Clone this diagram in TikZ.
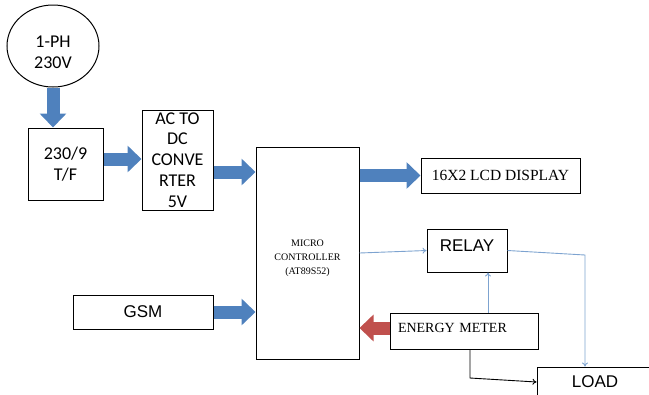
\documentclass[tikz,border=0pt]{standalone}
\usepackage{fontspec}
\setmainfont{Liberation Serif}
\newfontfamily\calfont{Carlito}
\newfontfamily\arialfont{Liberation Sans}
\usetikzlibrary{shapes.geometric,arrows.meta}

\definecolor{blockblue}{RGB}{79,129,189}
\definecolor{blockred}{RGB}{192,80,77}
\definecolor{lineblue}{RGB}{125,163,208}

\tikzset{
  box/.style={draw=black,line width=1bp,inner sep=0pt,align=center},
  calbox/.style={box,font=\calfont\fontsize{18bp}{20.8bp}\selectfont},
  fat/.style={draw=blockblue,line width=13bp,-{Triangle[width=26bp,length=14bp]}},
  thin/.style={draw=lineblue,line width=0.9bp,-{To[length=4bp,width=6bp]}}
}
% shift a text without changing the size that the node sees
\newcommand{\nudge}[2]{\raisebox{#1}[\height][\depth]{#2}}

\begin{document}
\begin{tikzpicture}[x=1bp,y=-1bp]
                \useasboundingbox (0,0) rectangle (649,394);
                \clip (0,0) rectangle (649,394);
                \node[calbox,shape=ellipse,minimum width=92bp,minimum height=82bp] (src) at (53,46) {\nudge{-8bp}{\begin{tabular}{@{}c@{}}1-PH\\230V\end{tabular}}};
                \node[calbox,minimum width=75bp,minimum height=72bp] (tf) at (65.5,164) {230/9\\T/F};
                \node[calbox,minimum width=71bp,minimum height=100bp] (ac) at (177.5,160) {AC TO\\DC\\CONVE\\RTER\\5V};
                \node[box,minimum width=103bp,minimum height=212bp,font=\fontsize{10bp}{14bp}\selectfont] (mc) at (307.5,253) {\nudge{-5bp}{\begin{tabular}{@{}c@{}}MICRO\\CONTROLLER\\(AT89S52)\end{tabular}}};
                \node[box,minimum width=140bp,minimum height=34bp,font=\arialfont\fontsize{17bp}{20bp}\selectfont] (gsm) at (143,312) {GSM};
                \node[box,minimum width=159bp,minimum height=35bp,font=\fontsize{15.5bp}{18bp}\selectfont] (lcd) at (500.5,175.5) {16X2 LCD DISPLAY};
                \node[box,minimum width=80bp,minimum height=43bp,font=\arialfont\fontsize{17bp}{20bp}\selectfont] (relay) at (467,250.5) {\nudge{5bp}{RELAY}};
                \node[box,text width=132bp,inner xsep=8bp,minimum height=36bp,align=left,font=\fontsize{14bp}{16bp}\selectfont] (em) at (464,331) {\nudge{3bp}{ENERGY METER}};
                \node[box,minimum width=116bp,minimum height=30bp,font=\arialfont\fontsize{17bp}{20bp}\selectfont] (load) at (595,382) {LOAD};
                \coordinate (bend) at (585,255);
                \coordinate (knee) at (470,378);
                % power path
                \draw[fat] (src.south) -- (src.south |- tf.north);
                \draw[fat] ([yshift=5bp]tf.east) -- ([yshift=5bp]tf.east -| ac.west);
                \draw[fat] ([yshift=-12bp]ac.east) -- ([yshift=-12bp]ac.east -| mc.west);
                \draw[fat] (lcd.west -| mc.east) -- (lcd.west);
                \draw[fat] (gsm.east) -- (gsm.east -| mc.west);
                \draw[fat,draw=blockred] ([yshift=3bp]em.west) -- ([yshift=3bp]em.west -| mc.east);
                % signal lines
                \draw[thin] (mc.east) -- (relay.west);
                \draw[thin] (relay.east) -- (bend) -- (bend |- load.north);
                \draw[thin] ([xshift=24bp]em.north) -- ([xshift=24bp]em.north |- relay.south);
                \draw[line width=0.9bp,-{To[length=4bp,width=6bp]}] (em.south -| knee) -- (knee) -- (load.west);
            \end{tikzpicture}
\end{document}
